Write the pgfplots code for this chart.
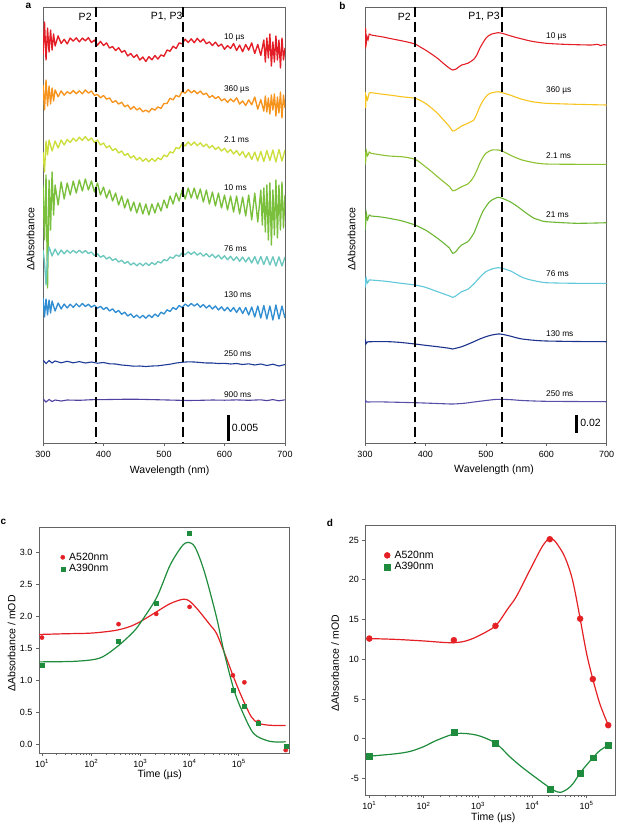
\documentclass[border=0pt]{standalone}
\usepackage{pgfplots}
\pgfplotsset{compat=1.18}
\usepackage{fontspec}
\setmainfont{Liberation Sans}
\definecolor{axgray}{RGB}{100,100,100}
\definecolor{ared}{RGB}{228,30,38}
\definecolor{aorange}{RGB}{246,148,30}
\definecolor{ayg}{RGB}{204,222,60}
\definecolor{agreen}{RGB}{122,192,60}
\definecolor{ateal}{RGB}{108,200,190}
\definecolor{ablue}{RGB}{50,142,210}
\definecolor{anavy}{RGB}{28,58,150}
\definecolor{apurple}{RGB}{82,64,160}
\definecolor{bred}{RGB}{228,30,38}
\definecolor{bgold}{RGB}{246,196,30}
\definecolor{byg}{RGB}{140,194,50}
\definecolor{bgreen}{RGB}{108,182,50}
\definecolor{bcyan}{RGB}{96,200,218}
\definecolor{bnavy}{RGB}{28,50,140}
\definecolor{bpurple}{RGB}{88,80,168}
\definecolor{cred}{RGB}{228,32,36}
\definecolor{cgreen}{RGB}{30,140,60}
\newcommand{\tfont}{\fontsize{9}{10}\selectfont}
\newcommand{\lfont}{\fontsize{10.5}{12}\selectfont}
\newcommand{\sfont}{\fontsize{8.3}{10}\selectfont}
\tikzset{
  lab/.style={inner sep=0pt, anchor=west, font=\sfont},
  dsh/.style={black, line width=1.6pt, dash pattern=on 10pt off 5pt},
  nz/.style={line width=1.35pt, line join=round},
  bs/.style={line width=1.1pt, smooth, tension=0.4},
}
\pgfplotsset{
  myframe/.style={scale only axis, axis line style={draw=axgray,line width=0.7pt},
    tick style={draw=axgray,line width=0.7pt}, tick align=outside,
    major tick length=3pt, minor tick length=2pt,
    ticklabel style={font=\tfont}, clip=true},
  myspec/.style={myframe, xmin=300, xmax=700, ymin=7, ymax=443, y dir=reverse,
    xtick={300,400,500,600,700}, xticklabels={300,400,500,600,700},
    ytick=\empty, xtick pos=left, xticklabel style={yshift=-2pt}},
  mykin/.style={myframe,
    xtick={10,100,1000,10000,100000},
    xticklabels={10\textsuperscript{1},10\textsuperscript{2},10\textsuperscript{3},10\textsuperscript{4},10\textsuperscript{5}},
    xtick pos=left, ytick pos=left,
    legend style={draw=none, fill=none, font=\lfont, inner sep=0pt, row sep=1.2pt, column sep=3.5pt,
      nodes={inner sep=0.8pt}, cells={anchor=west}},
    legend image code/.code={\draw plot coordinates {(0.1cm,0cm)};}},
}
\begin{document}
\begin{tikzpicture}
\path[use as bounding box] (0,0) rectangle (617pt,-824pt);
% ---------------- panel a ----------------
\begin{axis}[myspec, at={(43pt,-7pt)}, anchor=north west, width=242pt, height=436pt]
\addplot[ared, nz] coordinates {(300,55)(302.5,22)(305,60)(307.5,28)(310,52)(312.5,30)(315,50)(317.5,34)(320,46)(325,35.9)(330,43.5)(335,39.3)(340,43.9)(345,38.05)(350,41.05)(355,37.85)(360,41.9)(365,38.1)(370,40.8)(375,37.65)(380,42.5)(385,40.1)(390,45.2)(395,41.35)(400,45.5)(405,42.9)(410,48.05)(415,46.55)(420,50.55)(425,47.65)(430,52.25)(435,50.5)(440,56)(445,53.5)(450,57.5)(455,54.75)(460,60)(465,57)(470,61.5)(475,56.65)(480,59.8)(485,55.55)(490,59.05)(495,54.9)(500,56.25)(505,50)(510,51.25)(515,46.25)(520,48.5)(525,42.9)(530,43.8)(535,39.15)(540,42.5)(545,38.85)(550,42.7)(555,38.35)(560,42)(565,39)(570,43.75)(575,41.9)(580,45.55)(585,42.15)(590,46.25)(595,44.1)(600,49.2)(605,45.6)(610,48.5)(615,43.55)(620,50.5)(625,45.1)(630,51.7)(635,44.5)(640,50.1)(645,42.9)(650,53.5)(655,44.5)(660,55.4)(665,40)(667.5,62)(670,38)(672.5,58)(675,34)(677.5,66)(680,42)(682.5,62)(685,36)(687.5,60)(690,40)(692.5,68)(695,38)(697.5,60)(700,48)};
\addplot[aorange, nz] coordinates {(300,84.7)(302.5,110)(305,80)(307.5,106)(310,86)(312.5,104)(315,88)(317.5,101)(320,89.9)(325,96.7)(330,90.9)(335,95.2)(340,91.7)(345,93.7)(350,90.5)(355,93.75)(360,90.8)(365,93.85)(370,89.9)(375,93.15)(380,91)(385,95.4)(390,94.4)(395,97.8)(400,95.4)(405,99.15)(410,97.9)(415,102.5)(420,100.7)(425,104.05)(430,102.2)(435,106.7)(440,105)(445,109.25)(450,106.5)(455,109.95)(460,108)(465,111.75)(470,110.1)(475,112.15)(480,108.4)(485,110.15)(490,106.9)(495,108.4)(500,103.5)(505,103.45)(510,98.2)(515,99.85)(520,95.3)(525,96.9)(530,91.5)(535,93.2)(540,89.5)(545,92.75)(550,90.6)(555,93.75)(560,91.1)(565,94.6)(570,93.1)(575,97.5)(580,95.5)(585,98.6)(590,96.5)(595,100.75)(600,98.8)(605,102.35)(610,98.9)(615,101.8)(620,97.8)(625,104.1)(630,100.95)(635,105.5)(640,99.9)(645,104.75)(650,97)(655,109.15)(660,99.6)(665,111.1)(667.5,96)(670,112)(672.5,98)(675,114)(677.5,95)(680,110)(682.5,94)(685,116)(687.5,97)(690,113)(692.5,92)(695,118)(697.5,95)(700,108)};
\addplot[ayg, nz] coordinates {(300,152)(302.5,172)(305,141)(307.5,155)(310,140)(315,151)(320,141)(325,148)(330,140)(335,145)(340,139.5)(345,142.5)(350,138.2)(355,141.3)(360,137.2)(365,140.5)(370,136.5)(375,140.6)(380,138)(385,142.4)(390,140)(395,145)(400,143)(405,147.8)(410,145.8)(415,150.5)(420,148.5)(425,153)(430,151)(435,155.5)(440,153.5)(445,158)(450,155.8)(455,160)(460,157.5)(465,161.3)(470,158.5)(475,161.8)(480,158.5)(485,161.4)(490,157.8)(495,159.7)(500,155)(505,156.7)(510,151.8)(515,153)(520,147.5)(525,148.8)(530,143.5)(535,146)(540,142)(545,145.3)(550,142)(555,145.7)(560,142.8)(565,146.7)(570,144)(575,148)(580,145.5)(585,149.5)(590,147)(595,151)(600,148.3)(605,152.5)(610,149.5)(615,154)(620,150.5)(625,155.5)(630,151.5)(635,157.5)(640,152.5)(645,159.5)(650,152)(655,161)(660,151.5)(665,161.5)(670,150.5)(675,160.5)(680,150)(685,162)(690,149.5)(695,161)(700,150)};
\addplot[agreen, nz] coordinates {(300,185)(302.5,240)(305,175)(307.5,288)(310,180)(312.5,230)(315,172)(317.5,215)(320,185)(325,205)(330,182)(335,199)(340,183)(345,195)(350,181)(355,193)(360,180)(365,191)(370,179)(375,190)(380,181)(385,192)(390,183)(395,195)(400,187)(405,198)(410,190)(415,201)(420,193)(425,205)(430,196)(435,208)(440,199)(445,211)(450,202)(455,213)(460,203)(465,214)(470,204)(475,215)(480,204)(485,213)(490,203)(495,211)(500,200)(505,208)(510,196)(515,204)(520,193)(525,201)(530,190)(535,199)(540,188)(545,198)(550,188)(555,199)(560,189)(565,202)(570,190)(575,204)(580,192)(585,206)(590,193)(595,208)(600,195)(605,210)(610,196)(615,212)(620,196)(625,214)(630,197)(635,216)(640,195)(645,220)(650,193)(655,222)(660,190)(662.5,225)(665,188)(667.5,232)(670,185)(672.5,240)(675,183)(677.5,245)(680,190)(682.5,235)(685,180)(687.5,238)(690,185)(692.5,230)(695,182)(697.5,228)(700,195)};
\addplot[ateal, nz] coordinates {(300,250)(302.5,262)(305,285)(307.5,258)(310,247)(315,256)(320,249)(325,255)(330,250)(335,253.8)(340,250.2)(345,253.2)(350,250.3)(355,253)(360,250.3)(365,253)(370,250.5)(375,253.5)(380,252)(385,255.5)(390,253.8)(395,257.3)(400,255.5)(405,259)(410,257)(415,260.5)(420,258.7)(425,262)(430,260.2)(435,263.5)(440,261.5)(445,265)(450,262.8)(455,265.8)(460,263)(465,265.8)(470,263)(475,265.5)(480,262.5)(485,264.7)(490,261.5)(495,263)(500,259.5)(505,260.8)(510,257)(515,258.2)(520,255)(525,256.3)(530,252.8)(535,254.8)(540,251.8)(545,254.3)(550,251.8)(555,255.2)(560,252.8)(565,256.2)(570,253.6)(575,257)(580,254.3)(585,258)(590,255)(595,259)(600,255.8)(605,259.8)(610,256.3)(615,260.5)(620,256.8)(625,261.3)(630,257)(635,262)(640,257.3)(645,263)(650,256.5)(655,264)(660,256.5)(665,264.5)(670,256.5)(675,265)(680,256.7)(685,266)(690,256.8)(695,266)(700,257)};
\addplot[ablue, nz] coordinates {(300,298)(302.5,317)(305,299)(307.5,315)(310,300)(312.5,313)(315,301)(320,311)(325,303)(330,309)(335,304)(340,308)(345,304.2)(350,307.3)(355,303.8)(360,306.8)(365,303.5)(370,306.5)(375,304.2)(380,307.2)(385,305.2)(390,308.2)(395,306.3)(400,309.5)(405,307.3)(410,311)(415,308.8)(420,312.5)(425,310.4)(430,314.3)(435,312.2)(440,316)(445,313.8)(450,317.5)(455,315)(460,318)(465,315.3)(470,318.2)(475,315)(480,317.5)(485,314)(490,316.5)(495,312.2)(500,314)(505,309.8)(510,311.5)(515,307.5)(520,309.5)(525,305.5)(530,307.5)(535,304)(540,306.3)(545,303.5)(550,306)(555,303.7)(560,307.2)(565,304.5)(570,308)(575,305.3)(580,309)(585,306)(590,310)(595,306.8)(600,310.8)(605,307.3)(610,311.5)(615,307.5)(620,312.5)(625,307.5)(630,313.5)(635,307.5)(640,315)(645,307)(650,317)(655,306)(660,318)(665,305.5)(670,319)(675,306)(680,320)(685,305)(690,319)(695,306)(700,318)};
\addplot[anavy, line width=1.1pt] coordinates {(300,360)(305,363.5)(310,360.5)(315,363)(320,361)(330,362.8)(340,361.3)(350,362.8)(360,361.6)(370,363)(380,362)(390,363.2)(400,362.5)(410,363.8)(420,364)(430,365)(440,365.5)(450,366.2)(460,366)(470,366.5)(480,366)(490,365.8)(500,365)(510,364.2)(520,363)(530,362.3)(540,361.8)(550,362)(560,362.5)(570,363)(580,363)(590,363.5)(600,363.3)(610,364)(620,363.5)(630,364.5)(640,363.8)(650,365)(660,364)(670,365.5)(680,364.2)(690,366)(700,364.5)};
\addplot[apurple, line width=1.1pt] coordinates {(300,399)(305,402)(310,399.5)(315,401.5)(320,400)(330,401)(340,400)(360,400.3)(380,399.7)(400,399.6)(420,399.4)(440,399.2)(460,399.3)(480,399.6)(500,399.9)(520,400.2)(540,400.5)(560,400.3)(580,400)(600,400.2)(620,399.9)(640,400.3)(660,399.8)(670,400.6)(680,399.6)(690,400.8)(700,399.8)};
\addplot[dsh] coordinates {(388,7)(388,443)};
\addplot[dsh] coordinates {(531,7)(531,443)};
\addplot[black, line width=2.6pt] coordinates {(607,415)(607,441)};
\node[inner sep=0pt, font=\lfont] at (axis cs:369.7,16.7) {P2};
\node[inner sep=0pt, font=\lfont] at (axis cs:504.4,16.7) {P1, P3};
\node[lab, font=\lfont] at (axis cs:612,428.3) {0.005};
\node[lab] at (axis cs:599,37.3) {10 µs};
\node[lab] at (axis cs:599,89) {360 µs};
\node[lab] at (axis cs:599,139.7) {2.1 ms};
\node[lab] at (axis cs:599,187.7) {10 ms};
\node[lab] at (axis cs:599,248.3) {76 ms};
\node[lab] at (axis cs:599,294.7) {130 ms};
\node[lab] at (axis cs:599,354) {250 ms};
\node[lab] at (axis cs:599,394.3) {900 ms};
\end{axis}
% ---------------- panel b ----------------
\begin{axis}[myspec, at={(365pt,-7pt)}, anchor=north west, width=241.7pt, height=436pt]
\addplot[bred, bs] coordinates {(300,30)(300.5,48)(301,28)(302,44)(303,36)(305,40)(307,34)(310,35)(320,36)(330,37)(340,38.3)(350,39.5)(360,40.7)(370,42)(383,44)(390,46.5)(400,50)(410,54)(420,58.3)(430,63.5)(440,68.3)(445,70)(450,69.3)(455,67)(460,65)(470,63.3)(480,59.3)(485,55)(490,48.3)(495,43)(500,38.3)(505,35.5)(510,34)(520,32.7)(527,33.3)(535,34.8)(540,35.7)(550,37.5)(560,39)(570,40.5)(580,41.7)(600,43.3)(625,44.2)(650,44.7)(675,45)(685,44.3)(690,45.6)(695,44.6)(700,45.2)};
\addplot[bgold, bs] coordinates {(300,105)(300.5,92)(301,108)(302,96)(304,100)(307,93)(310,92.7)(320,93.5)(330,94.3)(340,95)(350,95.8)(360,96.7)(370,97.3)(383,98.3)(390,100)(400,103.3)(410,108)(420,113.3)(430,120)(440,126.7)(445,131)(450,130)(455,128)(460,126)(470,123.3)(480,120)(485,114)(490,106.7)(495,101)(500,96.7)(505,94)(510,92.7)(520,91.7)(527,92.7)(540,95)(550,97.3)(560,99.3)(570,100.8)(580,102)(600,103.3)(650,104.3)(700,105)};
\addplot[byg, bs] coordinates {(300,165)(300.5,152)(301,163)(302,150)(304,156)(307,152)(310,153.3)(320,154.3)(330,155.2)(340,156)(360,156.7)(370,157.5)(383,159.3)(390,162)(400,166.7)(410,171.5)(420,176.7)(430,181.7)(440,186.7)(445,190.7)(450,190)(460,186.7)(470,184)(475,181)(480,176.7)(485,170.5)(490,163.3)(495,157.5)(500,153.3)(510,150)(520,150)(527,151)(540,155)(550,157.7)(560,160)(580,162.7)(600,164)(650,164.3)(700,164.3)};
\addplot[bgreen, bs] coordinates {(300,230)(300.5,215)(301,226)(302,212)(304,220)(307,215)(310,216)(320,216.5)(330,217.3)(340,218.3)(360,220.7)(370,222.5)(383,225)(390,227)(400,230)(410,234)(420,238.3)(430,243)(440,248.3)(445,253.3)(450,251.7)(455,248)(460,245)(470,241.7)(475,238)(480,233.3)(485,226)(490,218.3)(495,211.5)(500,206.7)(505,202.5)(510,200)(520,197.3)(527,198.3)(535,200.3)(540,201.7)(550,205.5)(560,210)(570,214.5)(580,218.3)(590,220.3)(600,221.7)(650,223.3)(700,222.7)};
\addplot[bcyan, bs] coordinates {(300,288)(300.5,278)(301,286)(302,278)(304,283)(307,280)(310,280)(320,280.5)(330,281)(340,281.7)(360,283.3)(383,285)(400,287.3)(420,291.7)(440,296)(445,297.3)(450,296)(460,291.7)(470,289.3)(480,284)(490,277.3)(500,271.7)(510,269)(520,267.7)(527,268.3)(540,270.7)(550,274)(560,277.3)(570,279.3)(580,280.7)(600,282.7)(650,283.3)(700,283.3)};
\addplot[bnavy, bs] coordinates {(300,345)(301,341)(302,343.5)(304,342)(310,341.7)(340,341.7)(360,342.5)(383,344)(400,345.3)(420,346.7)(440,348.3)(445,349)(460,346.7)(470,344.3)(480,341.7)(490,339)(500,336.7)(510,335)(520,334)(527,334.3)(540,336)(550,337.7)(560,339)(580,340.3)(600,341)(650,341.5)(700,341.7)};
\addplot[bpurple, bs] coordinates {(300,403)(301,400.5)(303,402)(320,401.8)(383,402.7)(420,403.5)(445,404)(465,403.2)(480,402)(500,400.5)(515,399.5)(527,399.3)(545,399.8)(560,400.5)(600,401.3)(700,401.7)};
\addplot[dsh] coordinates {(383,7)(383,443)};
\addplot[dsh] coordinates {(527,7)(527,443)};
\addplot[black, line width=2.6pt] coordinates {(650,415)(650,433)};
\node[inner sep=0pt, font=\lfont] at (axis cs:365,16.7) {P2};
\node[inner sep=0pt, font=\lfont] at (axis cs:497,16.7) {P1, P3};
\node[lab, font=\lfont] at (axis cs:656,422.7) {0.02};
\node[lab] at (axis cs:599.5,36.7) {10 µs};
\node[lab] at (axis cs:599.5,90) {360 µs};
\node[lab] at (axis cs:599.5,156) {2.1 ms};
\node[lab] at (axis cs:599.5,214.3) {21 ms};
\node[lab] at (axis cs:599.5,274) {76 ms};
\node[lab] at (axis cs:599.5,333.3) {130 ms};
\node[lab] at (axis cs:599.5,393.3) {250 ms};
\end{axis}
% ---------------- panel c ----------------
\begin{axis}[mykin, xmode=log, at={(39pt,-753pt)}, anchor=south west, width=250pt, height=226pt,
  xmin=8.69, xmax=1.05e6, ymin=-0.136, ymax=3.40,
  ytick={0,0.5,1,1.5,2,2.5,3}, yticklabels={0.0,0.5,1.0,1.5,2.0,2.5,3.0},
  legend style={at={(axis description cs:0.086,0.89)}, anchor=north west}]
\addplot[cred, line width=1.2pt, smooth, forget plot] coordinates {(8.69,1.72)(10,1.72)(30,1.73)(100,1.74)(300,1.78)(600,1.84)(1000,1.92)(2000,2.06)(4000,2.2)(7400,2.27)(10000,2.24)(15000,2.1)(26000,1.87)(35000,1.74)(50000,1.45)(76000,1.08)(100000,0.85)(130000,0.65)(180000,0.43)(250000,0.33)(400000,0.30)(600000,0.295)(900000,0.295)};
\addplot[cgreen, line width=1.2pt, smooth, forget plot] coordinates {(8.69,1.29)(10,1.29)(50,1.3)(150,1.35)(340,1.53)(700,1.75)(1000,1.9)(2150,2.3)(4000,2.8)(7000,3.1)(9500,3.16)(13000,3.08)(20000,2.7)(35000,2.0)(50000,1.45)(80000,0.85)(120000,0.5)(200000,0.17)(370000,0.06)(600000,0.035)(900000,0.04)};
\addplot[only marks, mark=*, mark size=2.1pt, mark options={draw=cred, fill=cred}] coordinates {(10,1.67)(360,1.88)(2100,2.04)(10000,2.15)(76000,1.08)(130000,0.97)(250000,0.35)(900000,-0.09)};
\addlegendentry{A520nm}
\addplot[only marks, mark=square*, mark size=2pt, mark options={draw=cgreen, fill=cgreen}] coordinates {(10,1.24)(360,1.62)(2100,2.21)(10000,3.30)(76000,0.84)(130000,0.59)(250000,0.33)(900000,-0.03)};
\addlegendentry{A390nm}
\end{axis}
% ---------------- panel d ----------------
\begin{axis}[mykin, xmode=log, at={(365.3pt,-795.3pt)}, anchor=south west, width=249.7pt, height=269.6pt,
  xmin=8.44, xmax=3.33e5, ymin=-7.12, ymax=26.8,
  ytick={-5,0,5,10,15,20,25}, yticklabels={-5,0,5,10,15,20,25},
  legend style={at={(axis description cs:0.075,0.91)}, anchor=north west}]
\addplot[cred, line width=1.2pt, smooth, forget plot] coordinates {(10,12.6)(30,12.5)(100,12.3)(250,12.1)(400,12.1)(600,12.3)(1000,12.9)(2100,14.2)(3500,16.3)(5100,17.9)(9000,21.2)(16000,24.4)(23000,25.2)(37000,23.3)(50000,21)(60000,18.8)(76000,15.1)(100000,10.7)(130000,7.5)(175000,4.4)(250000,1.7)};
\addplot[cgreen, line width=1.2pt, smooth, forget plot] coordinates {(10,-2.2)(30,-1.9)(56,-1.6)(100,-1.0)(174,-0.2)(400,0.65)(950,0.45)(2100,-0.55)(3900,-2.3)(6800,-3.7)(16000,-5.6)(25000,-6.5)(33000,-6.75)(45000,-6.3)(57000,-5.6)(76000,-4.3)(100000,-3.3)(130000,-2.4)(175000,-1.5)(250000,-0.8)};
\addplot[only marks, mark=*, mark size=3pt, mark options={draw=cred, fill=cred}] coordinates {(10,12.6)(360,12.4)(2100,14.2)(21000,25.1)(76000,15.1)(130000,7.5)(250000,1.7)};
\addlegendentry{A520nm}
\addplot[only marks, mark=square*, mark size=2.9pt, mark options={draw=cgreen, fill=cgreen}] coordinates {(10,-2.2)(360,0.8)(2100,-0.6)(21000,-6.4)(76000,-4.3)(130000,-2.4)(250000,-0.8)};
\addlegendentry{A390nm}
\end{axis}
% ---------------- labels ----------------
\node[font=\lfont] at (169.7pt,-470.7pt) {Wavelength (nm)};
\node[font=\lfont] at (494pt,-470pt) {Wavelength (nm)};
\node[font=\lfont, rotate=90] at (30.7pt,-239pt) {ΔAbsorbance};
\node[font=\lfont, rotate=90] at (351.7pt,-239pt) {ΔAbsorbance};
\node[font=\lfont, rotate=90] at (11.7pt,-643.5pt) {ΔAbsorbance / mOD};
\node[font=\lfont] at (159.7pt,-775pt) {Time (µs)};
\node[font=\lfont, rotate=90] at (335pt,-663.3pt) {ΔAbsorbance / mOD};
\node[font=\lfont] at (493.3pt,-818pt) {Time (µs)};
\node[font=\fontsize{10}{12}\selectfont\bfseries] at (28.3pt,-5.5pt) {a};
\node[font=\fontsize{10}{12}\selectfont\bfseries] at (342.3pt,-5.5pt) {b};
\node[font=\fontsize{10}{12}\selectfont\bfseries] at (3.5pt,-522.3pt) {c};
\node[font=\fontsize{10}{12}\selectfont\bfseries] at (330pt,-523.3pt) {d};
\end{tikzpicture}
\end{document}
